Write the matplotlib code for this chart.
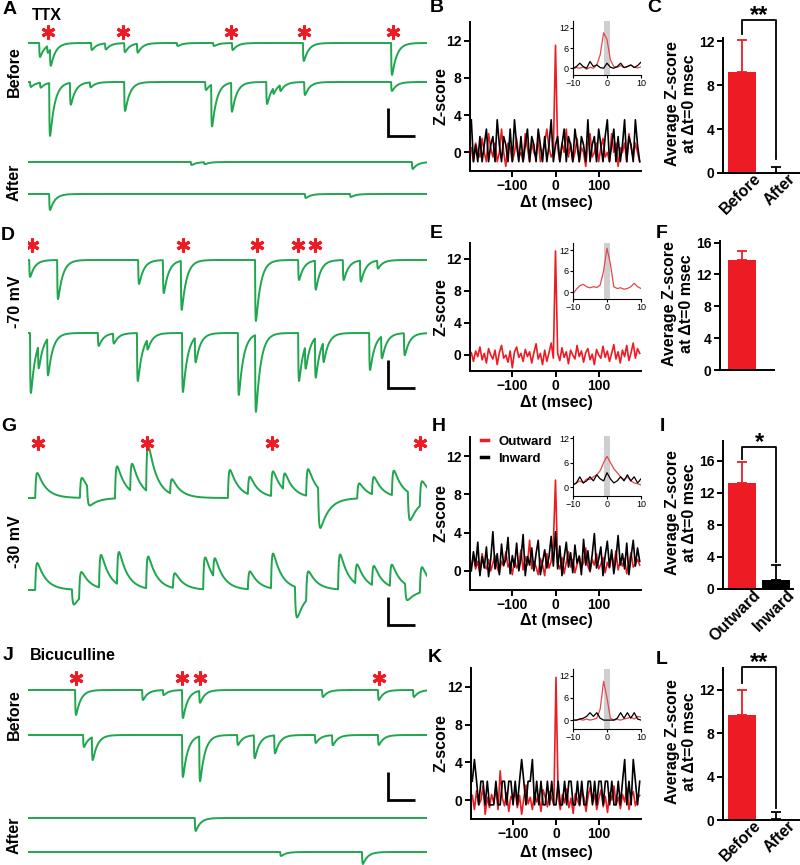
import numpy as np
import matplotlib
matplotlib.use('Agg')
import matplotlib.pyplot as plt
from matplotlib.lines import Line2D
from matplotlib.transforms import ScaledTranslation

plt.rcParams['font.family'] = ['Liberation Sans', 'DejaVu Sans']
plt.rcParams['font.weight'] = 'bold'
plt.rcParams['axes.labelweight'] = 'bold'

GREEN = '#1fa64e'
RED = '#ed1c24'
INS_RED = '#e4474c'

# ---------------------------------------------------------------- trace data
# events: (time in ms, amplitude in pA); negative = inward (downward)
A_before1 = [(28, -14), (48, -7), (55, -17), (158, -7), (193, -6), (241, -9), (273, -9),
             (373, -3), (464, -3), (511, -7), (689, -18), (910, -32)]
A_before2 = [(5, -5), (30, -5), (53, -53), (105, -22), (155, -5), (241, -29), (444, -8),
             (459, -42), (509, -29), (597, -22), (614, -6), (631, -6), (692, -13), (910, -9)]
A_after1 = [(408, -3), (441, -2), (962, -7)]
A_after2 = [(53, -16), (694, -4), (807, -3)]
A_stars = [50, 238, 509, 692, 915]

D_trace1 = [(3, -17), (73, -39), (276, -24), (338, -33), (383, -49), (569, -61), (677, -20),
            (719, -29), (789, -20), (832, -21), (875, -8)]
D_trace2 = [(5, -60), (25, -23), (48, -37), (175, -13), (213, -10), (273, -48), (298, -10),
            (386, -59), (418, -25), (526, -62), (569, -77), (677, -48), (694, -23), (719, -40),
            (739, -20), (855, -37), (885, -22), (942, -22)]
D_stars = [10, 388, 574, 677, 719]

G_trace1 = [(18, 25), (130, 20), (148, -17), (218, 32), (256, 28), (296, 47), (356, 15),
            (501, 28), (551, 18), (609, 25), (639, 17), (697, 27), (727, -38), (825, 15),
            (862, 18), (912, 25), (952, -27), (982, 23)]
G_trace2 = [(18, 27), (110, -15), (128, 25), (178, 33), (223, 33), (296, 32), (363, 15),
            (439, 32), (464, 20), (551, 18), (609, 35), (669, -30), (697, 27), (777, 35),
            (820, 20), (862, 20), (907, 22), (945, -15), (982, 25)]
G_stars = [25, 298, 611, 982]

J_before1 = [(118, -25), (286, -10), (338, -5), (386, -28), (429, -12), (737, -7), (877, -10),
             (965, -7)]
J_before2 = [(138, -12), (160, -23), (386, -42), (429, -45), (524, -10), (566, -23), (617, -18),
             (719, -8), (762, -10), (877, -10)]
J_after1 = [(418, -13)]
J_after2 = [(632, -4), (837, -12)]
J_stars = [120, 386, 431, 880]

SCALE_BAR = (67, 28)  # ms, pA

# ---------------------------------------------------------------- Z-score data
# bins of 5 ms from -195 to 195 ms
B_red = [0.5, -1, 1, 0, -0.5, 1.5, 0, -1, 2, 0.5,
         -0.5, 1, -1, 0, 2.5, 0, -1.5, 1, 0.5, -1,
         0, 1.5, -0.5, 0, -1, 2, 0.5, -1, 1, 0,
         -0.5, 1.5, -1, 0, 1, 2.5, 0.5, -0.5, 0, 11.5,
         0.5, -1, 1, 0, 2.5, -0.5, 1, -1, 0, 1.5,
         -1, 0.5, 0, -1.5, 1, 2, -0.5, 0, 1, -1,
         0.5, 1.5, -0.5, 0, -1, 2, 0, 1, -1.5, 0.5,
         0, 1, -1, 2, 0.5, -0.5, 1, 0, -1]
B_black = [3.5, -1, 0.8, -1, 1.7, -1, 0.8, 2.5, -1, 0.8,
           1.7, -1, 3.5, 0.8, -1, 1.7, 0.8, -1, 2.5, -1,
           3.5, 0.8, -1, 1.7, -1, 0.8, 2.5, -1, 1.7, 0.8,
           -1, 2.5, 0.8, -1, 1.7, -1, 0.8, 3.5, -1, 0.8,
           1.7, -1, 0.8, 2.5, -1, 1.7, 0.8, -1, 2.5, 0.8,
           -1, 1.7, 0.8, -1, 3.5, -1, 0.8, 1.7, -1, 2.5,
           0.8, -1, 1.7, 3.5, -1, 0.8, 2.5, -1, 1.7, -1,
           0.8, 3.5, -1, 1.7, 0.8, -1, 3.5, 0.8, -1]
E_red = [0.3, -0.8, 0.5, -0.2, 1, -0.6, 0.2, -1, 0.8, 0,
         -0.5, 0.6, -1.2, 0.3, 1.2, -0.4, 0, -0.9, 0.5, -1.6,
         0.4, 1, -0.3, 0.2, -0.8, 0.7, -0.2, 0.4, -1, 0.3,
         1.4, -0.5, 0.2, -1.2, 0.6, -0.8, 0.3, 1.5, -0.4, 13,
         0.2, -0.7, 0.9, -0.3, 0.4, -1.1, 0.6, 0, -0.5, 1.2,
         -0.2, 0.5, -0.9, 0.3, 0.8, -0.6, 0.1, -1.2, 0.7, 0,
         -0.4, 1.1, -0.3, 0.5, -0.8, 0.2, 1.3, -0.5, 0.4, -1,
         0.6, -0.2, 1.2, -0.7, 0.3, 1.5, -0.4, 0.8, 0.2]
H_red = [0.5, 1.5, 0.2, 1, -0.3, 1.8, 0.6, 0.2, 1.2, 0,
         0.8, 1.6, 0.3, -0.2, 1, 0.5, 2, 0.4, 0.9, -0.4,
         1.2, 0.3, 0.7, 2.2, 0.1, 1.5, 0.6, 3.2, 0.2, 1,
         0.4, -0.4, 1.3, 0.6, -0.5, 1.8, 0.3, 1, 2.8, 9.5,
         0.8, 0.2, 1.4, -0.3, 0.9, 2, 0.4, 1.2, -0.2, 0.7,
         1.6, 0.3, 0.9, 2.4, 0.5, -0.1, 1.2, 0.6, 1.8, 0.2,
         0.7, 1.4, -0.2, 0.9, 0.3, 1.7, 0.6, 2.1, 0.1, 1,
         0.5, 1.3, -0.3, 0.8, 1.9, 0.4, 0.7, 1.2, 0.6]
H_black = [0, 2, 0.5, 3, -0.5, 1.5, 0.3, 2.5, -0.6, 1.2,
           4.1, 0.2, 1.8, -0.4, 2.8, 0.6, 1.2, 3.5, -0.3, 1.6,
           0.4, 2.9, 0, 1.3, 3.8, -0.5, 1.5, 0.6, 2.4, 0,
           1.8, 3.2, -0.4, 0.9, 2.2, 0.3, 1.5, 3.6, 0.5, 4.1,
           0.2, 2.6, -0.5, 1.4, 3, 0.4, 1.9, -0.2, 2.7, 0.8,
           1.5, -0.4, 3.3, 0.6, 2.1, 0, 1.7, 3.9, 0.3, 1.2,
           2.5, -0.5, 1.6, 3.1, 0.4, 2.2, -0.3, 1.3, 3.7, 0.6,
           1.8, 0.2, 2.9, -0.4, 1.5, 3.2, 0.5, 2.4, 1]
K_red = [0.5, -1, 1, -0.5, 0, 1.5, -1.5, 0.3, -0.8, 0.6,
         -0.3, 1.2, -1, 3.1, 0.2, -0.6, 0.8, -1.2, 0.4, 0,
         1, -0.8, 0.5, -1.5, 0.2, 1.6, -0.4, 0.3, -1, 0.8,
         -0.2, 0.5, -1.2, 1.1, 0.3, -0.7, 0.9, 0.2, -0.5, 13,
         0.4, -1, 0.6, -0.3, 1.2, -0.8, 0.2, -1.4, 0.7, 0,
         -0.6, 1, 0.3, -1.2, 0.5, 1.4, -0.3, 0.6, -1, 0.2,
         1.1, -0.7, 0.4, -1.3, 0.8, 0, 1.5, -0.5, 0.3, -0.9,
         0.6, -0.2, 1.3, -1, 0.4, 0.9, -0.6, 0.2, 0.5]
K_black = [2, 4.3, 2, -0.5, 2, 2, -0.5, 2, -0.5, -0.5,
           -0.5, 2, -0.5, -0.5, 2, 2, -0.5, 2, 2, -0.5,
           2, -0.5, 2, 4.3, 2, -0.5, 2, 2, 4.3, -0.5,
           2, -0.5, 2, -0.5, -0.5, 2, -0.5, 2, -0.5, -0.5,
           2, -0.5, -0.5, 2, -0.5, 2, 2, -0.5, -0.5, 2,
           -0.5, 2, -0.5, -0.5, 2, 2, -0.5, 2, -0.5, 2,
           2, -0.5, 2, 2, -0.5, 2, -0.5, -0.5, 2, -0.5,
           2, 4.3, -0.5, 2, -0.5, 4.3, 2, -0.5, 2]

# insets: 1 ms bins from -10 to 10 ms
B_ins_red = [-0.2, 0.2, 0, 0.4, -0.3, 0.3, 0, 1, 4, 10.5, 8.5, 2.5, 0.5, 0.3, 0.8, 0.2, 0.5, 0.9, 0.3, 0.1, 0.4]
B_ins_black = [0, 0.5, 1.5, 0.5, 0, 2, 0.5, 1, 0.2, 0, 1.5, 0.3, 0, 0.5, 1.5, 0.2, 0.5, 1, 0.2, 0.8, 1.8]
E_ins_red = [-0.5, 0.8, 1.8, 2.2, 1.5, 1.2, 1.5, 1.3, 2, 6, 12.5, 8, 1.5, 1, 1.2, 0.8, 1, 1.5, 2.5, 1.5, 1]
H_ins_red = [0.5, 1, 1.5, 1, 2, 1.8, 2.5, 3, 4, 6, 7.5, 6, 4.5, 3.5, 2.5, 1.8, 2.5, 1.5, 1, 0.8, 0.5]
H_ins_black = [0.5, 1, 2.5, 1, 1.5, 2.5, 1.5, 3, 2, 1.5, 3.5, 2, 1, 1.5, 2.5, 1.5, 3, 1.5, 2.5, 1, 2]
K_ins_red = [0, 0, 0.2, 0, 0.3, 0, 0.2, 0.5, 3, 10.5, 6, 0.5, 0, 0.2, 0, 0.3, 0.5, 0.8, 0.3, 1, 0.8]
K_ins_black = [0, 0, 0.3, 0.5, 1, 2, 1, 2, 0.5, 0, 0, 0, 0, 0.5, 2, 0.5, 2, 0.5, 2, 0.3, 0]

# ---------------------------------------------------------------- bar data
C_labels = ['Before', 'After']; C_vals = [9.2, 0.0]; C_err = [2.9, 0.55]
F_labels = ['']; F_vals = [13.85]; F_err = [1.05]
I_labels = ['Outward', 'Inward']; I_vals = [13.3, 1.1]; I_err = [2.6, 1.9]
L_labels = ['Before', 'After']; L_vals = [9.7, 0.1]; L_err = [2.3, 0.65]

# ---------------------------------------------------------------- figure
W, H = 800, 865
fig = plt.figure(figsize=(W / 100, H / 100), dpi=100)
fig.patch.set_facecolor('white')


def px_axes(x0, y0, x1, y1):
    return fig.add_axes([x0 / W, 1 - y1 / H, (x1 - x0) / W, (y1 - y0) / H])


def ftext(x, y, s, **kw):
    return fig.text(x / W, 1 - y / H, s, **kw)


t = np.arange(0, 1000, 0.25)


def make_trace(events, tau_r, tau_d):
    y = np.zeros_like(t)
    s_pk = np.log(tau_d / tau_r) * tau_r * tau_d / (tau_d - tau_r)
    kmax = np.exp(-s_pk / tau_d) - np.exp(-s_pk / tau_r)
    for t0, a in events:
        s = t - t0
        m = s > 0
        y[m] += a * (np.exp(-s[m] / tau_d) - np.exp(-s[m] / tau_r)) / kmax
    return y


def trace_panel(box, traces, stars, star_y, sb_top, tau=(0.8, 12)):
    x0, y0, x1, y1 = box
    ax = px_axes(x0, y0, x1, y1)
    ax.set_xlim(0, 1000)
    ax.set_ylim(-(y1 - y0), 0)
    ax.axis('off')
    for events, base in traces:
        ax.plot(t, make_trace(events, *tau) - base, color=GREEN, lw=1.4)
    ax.plot(stars, [-star_y] * len(stars), ls='none', marker=(6, 2, 0), ms=10, mew=2.2, color=RED)
    sb_x = 1000 - 97
    ax.plot([sb_x, sb_x, sb_x + SCALE_BAR[0]], [-sb_top, -sb_top - SCALE_BAR[1], -sb_top - SCALE_BAR[1]],
            color='black', lw=2, solid_capstyle='butt', solid_joinstyle='miter')
    return ax


trace_panel((28, 25, 427, 215), [(A_before1, 18), (A_before2, 57), (A_after1, 137), (A_after2, 169)],
            A_stars, 7, 83)
trace_panel((28, 225, 427, 425), [(D_trace1, 35), (D_trace2, 108)], D_stars, 20, 135)
trace_panel((28, 425, 427, 640), [(G_trace1, 73), (G_trace2, 165)], G_stars, 18, 172, tau=(2.0, 22))
trace_panel((28, 640, 427, 865), [(J_before1, 50), (J_before2, 95), (J_after1, 178), (J_after2, 212)],
            J_stars, 38, 132)

lab_kw = dict(fontsize=11.5, fontweight='bold', rotation=90, ha='center', va='center')
ftext(14, 72, 'Before', **lab_kw)
ftext(14, 182, 'After', **lab_kw)
ftext(15, 302, '-70 mV', **lab_kw)
ftext(15, 542, '-30 mV', **lab_kw)
ftext(14, 715, 'Before', **lab_kw)
ftext(14, 835, 'After', **lab_kw)
ftext(32, 16, 'TTX', fontsize=11.5, fontweight='bold', ha='left', va='center')
ftext(30, 656, 'Bicuculline', fontsize=11.5, fontweight='bold', ha='left', va='center')

# panel letters
for letter, x, y in [('A', 3, 9), ('B', 430, 7), ('C', 647, 8), ('D', 1, 235), ('E', 430, 234),
                     ('F', 656, 234), ('G', 1, 427), ('H', 432, 427), ('I', 660, 427),
                     ('J', 3, 655), ('K', 428, 657), ('L', 656, 660)]:
    ftext(x, y, letter, fontsize=14, fontweight='bold', ha='left', va='center')

zt = np.arange(-195, 196, 5)
it = np.arange(-10, 11)


def style_axes(ax, lw=1.4, size=10, length=4):
    for s in ('top', 'right'):
        ax.spines[s].set_visible(False)
    for s in ('left', 'bottom'):
        ax.spines[s].set_linewidth(lw)
    ax.tick_params(width=lw, length=length, labelsize=size, pad=2)


def z_panel(box, series, ins_box, ins_series, ins_ylim, xlabel_y):
    x0, y0, x1, y1 = box
    ax = px_axes(*box)
    for vals, col in series:
        ax.plot(zt, vals, color=col, lw=1.2)
    ax.set_xlim(-198, 198)
    ax.set_ylim(-2, 14)
    ax.set_xticks([-100, 0, 100])
    ax.set_yticks([0, 4, 8, 12])
    style_axes(ax)
    for lb in ax.get_xticklabels() + ax.get_yticklabels():
        lb.set_fontweight('bold')
    ftext(441, (y0 + y1) / 2, 'Z-score', fontsize=11.5, fontweight='bold', rotation=90, ha='center', va='center')
    ftext(556, xlabel_y, 'Δt (msec)', fontsize=11.5, fontweight='bold', ha='center', va='center')
    ia = px_axes(*ins_box)
    ia.axvspan(-1, 1, color='#cfcfcf', lw=0)
    for vals, col in ins_series:
        ia.plot(it, vals, color=col, lw=0.9)
    ia.set_xlim(-10, 10)
    ia.set_ylim(*ins_ylim)
    ia.set_xticks([-10, 0, 10])
    ia.set_yticks([0, 6, 12])
    style_axes(ia, lw=0.8, size=6.5, length=2)
    for lb in ia.get_xticklabels() + ia.get_yticklabels():
        lb.set_fontweight('normal')
    ia.tick_params(pad=1)
    ia.patch.set_alpha(0)
    return ax


z_panel((470, 22, 641, 171), [(B_red, RED), (B_black, 'black')], (573, 21, 641, 75),
        [(B_ins_red, INS_RED), (B_ins_black, 'black')], (-2, 14), 202)
z_panel((470, 243, 641, 371), [(E_red, RED)], (573, 243, 641, 299), [(E_ins_red, INS_RED)], (-2, 14), 402)
axH = z_panel((470, 437, 641, 590), [(H_red, RED), (H_black, 'black')], (573, 436, 641, 496),
              [(H_ins_red, INS_RED), (H_ins_black, 'black')], (-2.2, 12.5), 621)
z_panel((471, 668, 641, 819), [(K_red, RED), (K_black, 'black')], (573, 669, 641, 729),
        [(K_ins_red, INS_RED), (K_ins_black, 'black')], (-2.4, 13.8), 852)

handles = [Line2D([], [], color=RED, lw=2.5), Line2D([], [], color='black', lw=2.5)]
axH.legend(handles, ['Outward', 'Inward'], loc='upper left', bbox_to_anchor=(0.02, 1.06), frameon=False,
           handlelength=0.5, handletextpad=0.8, labelspacing=0.35, borderaxespad=0.2,
           prop=dict(size=9.5, weight='bold'))


def bar_panel(box, labels, vals, errs, colors, ylim, yticks, xlim, sig=None, label_x=681):
    ax = px_axes(*box)
    x = np.arange(len(vals))
    ax.bar(x, vals, width=0.82, color=colors, zorder=2)
    for xi, v, e, c in zip(x, vals, errs, colors):
        ax.errorbar([xi], [v], yerr=[[0], [e]], color=c, capsize=3.5, capthick=1.3, elinewidth=1.3,
                    fmt='none', zorder=3)
    ax.set_xlim(*xlim)
    ax.set_ylim(*ylim)
    ax.set_yticks(yticks)
    style_axes(ax)
    ax.set_xticks(x)
    ax.tick_params(axis='x', length=0, pad=0)
    ax.set_xticklabels(labels, rotation=45, ha='right', rotation_mode='anchor', fontsize=11.5,
                       fontweight='bold')
    for lb in ax.get_xticklabels():
        lb.set_transform(lb.get_transform() + ScaledTranslation(0.11, 0.02, fig.dpi_scale_trans))
    for lb in ax.get_yticklabels():
        lb.set_fontweight('bold')
    if sig is not None:
        left_bot, top, right_bot, star = sig
        ax.plot([0, 0, 1, 1], [left_bot, top, top, right_bot], color='black', lw=1.3, clip_on=False)
        ax.text(0.5, top, star, ha='center', va='baseline', fontsize=17, fontweight='bold',
                transform=ax.transData + ScaledTranslation(0, -0.02, fig.dpi_scale_trans))
    x0, y0, x1, y1 = box
    ftext(label_x, (y0 + y1) / 2 - 2, 'Average Z-score\nat Δt=0 msec', fontsize=11.5, fontweight='bold',
          rotation=90, ha='center', va='center', multialignment='center', linespacing=1.2)
    return ax


bar_panel((723, 38, 800, 173), C_labels, C_vals, C_err, [RED, 'black'], (0, 12.3), [0, 4, 8, 12],
          (-0.56, 1.7), sig=(12.7, 13.9, 1.3, '**'))
bar_panel((720, 241, 774, 370), F_labels, F_vals, F_err, [RED], (0, 16.2), [0, 4, 8, 12, 16], (-0.65, 0.94),
          label_x=678)
bar_panel((723, 441, 793, 589), I_labels, I_vals, I_err, [RED, 'black'], (0, 18.5), [0, 4, 8, 12, 16],
          (-0.56, 1.5), sig=(16.3, 17.8, 3.4, '*'))
bar_panel((723, 668, 800, 820), L_labels, L_vals, L_err, [RED, 'black'], (0, 14), [0, 4, 8, 12],
          (-0.56, 1.7), sig=(12.6, 14.1, 1.1, '**'))

fig.savefig('out.png', dpi=100, facecolor='white')
